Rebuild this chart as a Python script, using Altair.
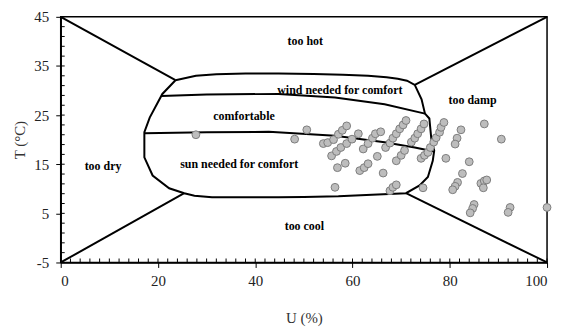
import altair as alt
import pandas as pd

# ---- observations: relative humidity U (%) and temperature T (°C)
obs_u = [27.8, 48.1, 50.6, 56.4, 54.0, 54.9, 56.1, 57.1, 57.9, 58.8,
         55.7, 56.7, 57.6, 58.8, 59.9, 61.2, 56.9, 58.5, 61.5, 62.4,
         63.2, 62.2, 63.2, 64.1, 64.7, 65.8, 65.1, 66.3, 66.8, 67.7,
         68.3, 69.0, 69.7, 70.4, 71.0, 69.0, 70.0, 70.7, 67.7, 68.3,
         69.0, 72.1, 72.8, 73.4, 74.1, 74.7, 74.1, 74.8, 75.5, 76.0,
         76.7, 77.2, 77.9, 78.2, 78.8, 74.5, 79.2, 82.3, 81.5, 81.1,
         87.1, 90.6, 84.0, 82.6, 81.6, 81.1, 80.6, 86.4, 87.1, 87.6,
         86.9, 85.0, 84.7, 84.2, 92.4, 92.0, 100.0]
obs_t = [21.0, 20.1, 22.0, 10.3, 19.2, 19.4, 20.0, 21.1, 21.9, 22.8,
         16.7, 17.6, 18.4, 19.2, 20.1, 21.2, 14.3, 15.2, 13.7, 14.3,
         15.1, 18.1, 19.2, 20.3, 21.2, 21.6, 16.6, 13.2, 18.4, 19.3,
         20.3, 21.2, 22.2, 23.0, 23.9, 15.7, 16.8, 17.8, 9.6, 10.3,
         10.8, 19.5, 20.3, 21.2, 22.2, 23.2, 16.2, 16.8, 17.4, 18.4,
         19.5, 20.4, 21.5, 22.5, 23.5, 10.2, 16.2, 22.0, 20.3, 19.1,
         23.2, 20.1, 15.5, 13.1, 11.3, 10.5, 9.8, 11.1, 11.6, 11.8,
         10.2, 6.8, 6.0, 5.1, 6.2, 5.2, 6.2]

# ---- comfort zone outline
comfort_u = [23.6, 27.8, 32.0, 38.0, 44.8, 52.0, 58.0, 63.2, 67.0, 69.3,
             71.2, 72.8, 74.2, 74.9, 75.8, 76.2, 76.8, 76.5, 75.5, 73.8,
             71.0, 64.0, 57.1, 50.0, 44.8, 38.0, 31.1, 27.5, 25.4, 22.3,
             18.9, 17.2, 17.2, 18.3, 20.9, 23.6]
comfort_t = [32.1, 33.0, 33.3, 33.45, 33.45, 33.35, 33.2, 33.0, 32.7, 32.4,
             32.0, 31.15, 28.2, 25.3, 24.3, 20.2, 17.8, 15.7, 12.4, 10.7,
             9.1, 8.8, 8.5, 8.35, 8.3, 8.3, 8.3, 8.6, 9.1, 10.1,
             12.7, 16.4, 21.5, 24.5, 29.3, 32.1]
wind_u = [20.7, 30.0, 44.8, 56.4, 66.6, 74.9]
wind_t = [28.9, 29.2, 29.3, 28.6, 27.2, 25.3]
sun_u = [17.2, 30.0, 42.8, 56.4, 66.6, 72.8, 76.8]
sun_t = [21.3, 21.5, 21.6, 20.8, 19.45, 18.4, 17.6]
diag_tl_u, diag_tl_t = [0, 23.6], [45, 32.1]
diag_tr_u, diag_tr_t = [100, 72.8], [45, 31.15]
diag_bl_u, diag_bl_t = [0, 25.4], [-5, 9.1]
diag_br_u, diag_br_t = [100, 71.0], [-5, 9.1]

# ---- zone labels
zone_names = ["too hot", "wind needed for comfort", "comfortable",
              "sun needed for comfort", "too dry", "too cool", "too damp"]
zone_u = [50.3, 57.4, 37.7, 36.7, 8.7, 50.1, 84.7]
zone_t = [40.0, 30.1, 24.9, 15.1, 14.6, 2.5, 28.05]

# ---- axis ticks
x_major = [0, 20, 40, 60, 80, 100]
y_major = [-5, 5, 15, 25, 35, 45]
x_minor = list(range(0, 101, 2))
y_minor = list(range(-5, 46, 2))

W, H = 489, 247
SERIF = "Liberation Serif, Times New Roman, serif"

segs = []
for name, us, ts in [("comfort", comfort_u, comfort_t), ("wind", wind_u, wind_t),
                     ("sun", sun_u, sun_t), ("tl", diag_tl_u, diag_tl_t),
                     ("tr", diag_tr_u, diag_tr_t), ("bl", diag_bl_u, diag_bl_t),
                     ("br", diag_br_u, diag_br_t)]:
    for i, (u, t) in enumerate(zip(us, ts)):
        segs.append({"seg": name, "ord": i, "u": u, "t": t})
lines_df = pd.DataFrame(segs)
obs_df = pd.DataFrame({"u": obs_u, "t": obs_t})
zone_df = pd.DataFrame({"name": zone_names, "u": zone_u, "t": zone_t})
xm_df = pd.DataFrame({"u": x_minor})
ym_df = pd.DataFrame({"t": y_minor})

xs = alt.Scale(domain=[0, 100], nice=False, zero=False)
ys = alt.Scale(domain=[-5, 45], nice=False, zero=False)
axis_style = dict(grid=False, tickSize=5, labelExpr="'' + datum.value",
                  labelFont=SERIF, labelFontSize=15, labelColor="#222222",
                  titleFont=SERIF, titleFontSize=15, titleFontWeight="normal",
                  titleColor="#333333", domainColor="black", domainWidth=1.5,
                  tickColor="black", tickWidth=1)
x_axis = alt.Axis(values=x_major, labelPadding=6, titlePadding=22, **axis_style)
y_axis = alt.Axis(values=y_major, labelPadding=7, titlePadding=6, **axis_style)


def X(field):
    return alt.X(field, scale=xs, axis=x_axis, title="U (%)")


def Y(field):
    return alt.Y(field, scale=ys, axis=y_axis, title="T (°C)")


lines = alt.Chart(lines_df).mark_line(color="black", strokeWidth=2).encode(
    x=X("u:Q"), y=Y("t:Q"), detail="seg:N", order="ord:Q",
)

xticks = alt.Chart(xm_df).mark_rule(color="black", strokeWidth=1).encode(
    x=X("u:Q"), y=alt.value(H), y2=alt.value(H - 4),
)
yticks = alt.Chart(ym_df).mark_rule(color="black", strokeWidth=1).encode(
    y=Y("t:Q"), x=alt.value(0), x2=alt.value(4),
)

points = alt.Chart(obs_df).mark_circle(
    size=62, color="#bdbdbd", stroke="#7d7d7d", strokeWidth=1, opacity=1
).encode(x=X("u:Q"), y=Y("t:Q"))

texts = alt.Chart(zone_df).mark_text(
    font=SERIF, fontWeight="bold", fontSize=12, color="black"
).encode(x=X("u:Q"), y=Y("t:Q"), text="name:N")

chart = alt.layer(lines, xticks, yticks, points, texts).properties(
    width=W, height=H,
    autosize=alt.AutoSizeParams(type="none"),
    padding={"left": 53, "top": 8, "right": 8, "bottom": 64},
).configure(
    font=SERIF
).configure_view(
    stroke="black", strokeWidth=1.5
)

chart.save("out.html", embed_options={"renderer": "svg", "actions": False})
